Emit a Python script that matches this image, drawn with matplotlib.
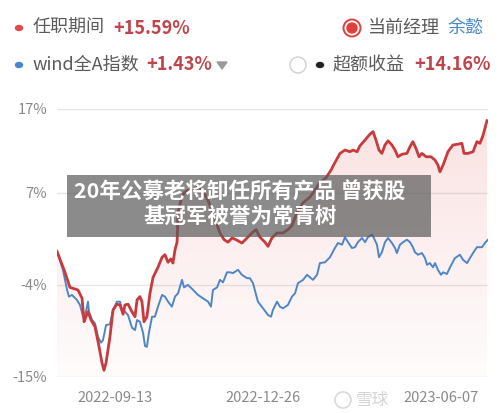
import numpy as np
import matplotlib
matplotlib.use("Agg")
import matplotlib.pyplot as plt
from matplotlib.patches import Rectangle, Ellipse, Polygon

plt.rcParams['font.family'] = ['Noto Sans CJK SC', 'DejaVu Sans']
plt.rcParams['axes.unicode_minus'] = False

# ---- data (cumulative return, %) ----
red_x = [0, 3.9, 6.3, 10.2, 12.2, 13.2, 14.1, 15.1, 16.6, 18.5, 20.5, 21.9, 22.9, 23.9, 25.8,
         27.3, 29.2, 30.7, 32.2, 33.1, 34.6, 36.5, 38.0, 39.0, 40.4, 41.4, 42.4, 43.8, 45.3,
         46.8, 49.2, 51.2, 52.6, 54.1, 55.5, 56.5, 57.5, 58.5, 59, 60.4, 61.9, 63.8, 66.3,
         68.7, 71.1, 73.6, 75.5, 77.5, 79.4, 81.4, 83.3, 85.3, 87.2, 90.1, 92.6, 95.0, 97.0,
         98.9, 101.3, 102.8, 104.7, 107.2, 110.1, 112.5, 114.5, 116.9, 119.9, 123.3, 125.7,
         128.1, 131.1, 133.5, 135.4, 137.9, 140.3, 142.7, 144.2, 146.2, 147.6, 150.1, 152.5,
         154.0, 155.4, 156.9, 158.3, 159.8, 161.3, 163.2, 164.7, 166.1, 168.1, 170.5, 172.0,
         173.4, 174.9, 176.4, 177.8, 179.8, 182.2, 184.2, 185.6, 186.6, 188.1, 190.5, 192.9,
         195.4, 197.3, 198.3, 200.2, 202.7, 204.6, 206.1, 207.5, 209.5]
red_y = [0.0, -2.5, -4.3, -4.6, -5.6, -8.4, -7.8, -7.2, -8.2, -9.0, -11.4, -13.3, -14.2, -13.3, -10.2,
         -7.0, -6.3, -6.4, -7.5, -6.4, -6.3, -7.2, -7.8, -5.8, -5.4, -6.0, -8.4, -7.8, -5.0,
         -3.1, -1.9, -0.7, -0.4, -1.3, -0.9, -1.4, 0.2, 1.1, 4.7, 6.1, 7.0, 7.3, 7.2,
         7.7, 7.2, 6.1, 4.9, 3.5, 2.2, 1.4, 1.1, 1.6, 1.4, 1.0, 1.6, 2.2, 2.6,
         1.7, 1.1, 0.6, 1.6, 2.2, 2.2, 2.6, 3.1, 4.6, 5.8, 6.5, 7.3,
         8.2, 8.8, 9.7, 10.6, 11.7, 12.1, 11.9, 12.1, 11.9, 12.6, 13.3, 14.0,
         14.3, 13.3, 12.1, 11.7, 12.7, 13.2, 12.7, 12.1, 11.3, 11.6, 11.7, 12.5,
         13.1, 12.3, 11.3, 11.7, 11.3, 11.3, 10.9, 10.3, 9.5, 10.3, 11.9, 12.7,
         12.8, 12.9, 11.7, 11.7, 11.9, 13.1, 12.9, 13.8, 15.6]

blue_x = [0, 2.9, 4.9, 5.8, 7.3, 9.7, 11.2, 12.7, 14.1, 15.1, 15.6, 17.1, 18.5, 20.0, 21.4, 22.4,
          23.9, 25.8, 27.3, 29.2, 30.7, 31.7, 33.1, 34.6, 36.5, 38.0, 39.0, 40.4, 41.9, 42.9,
          43.8, 44.8, 46.3, 47.7, 49.2, 51.2, 52.6, 54.1, 56.0, 57.5, 59.0, 60.9, 61.9, 63.8,
          66.3, 68.7, 71.1, 73.6, 75.0, 76.0, 78.0, 79.4, 80.9, 82.8, 84.3, 85.7, 88.2, 90.1,
          92.6, 94.0, 95.5, 97.9, 100.4, 102.8, 104.3, 105.2, 107.2, 108.6, 110.1, 112.5, 114.5,
          116.0, 117.4, 119.9, 121.8, 123.3, 124.7, 126.7, 128.1, 130.6, 133.0, 135.4, 136.9,
          138.9, 140.3, 141.8, 143.7, 145.2, 146.6, 148.6, 150.1, 151.5, 153.5, 154.4, 155.9,
          156.9, 158.3, 159.8, 161.3, 163.2, 164.7, 165.6, 167.1, 168.6, 170.5, 172.0, 173.4,
          174.4, 175.9, 177.8, 179.3, 180.3, 181.7, 183.2, 184.2, 185.6, 187.1, 188.1, 190.0,
          191.5, 193.9, 196.3, 197.8, 199.8, 201.2, 202.7, 204.6, 207.1, 208.5, 210.0]
blue_y = [0.0, -2.2, -4.6, -5.4, -5.2, -5.8, -6.4, -7.8, -7.2, -6.0, -7.2, -8.2, -8.6, -10.2, -10.9, -10.6,
          -8.8, -8.7, -7.0, -6.0, -6.0, -7.0, -7.2, -7.6, -9.1, -9.4, -8.2, -8.4, -9.7, -11.3,
          -11.4, -9.7, -7.8, -7.8, -6.6, -5.2, -5.4, -6.0, -6.6, -5.4, -5.0, -3.4, -4.3, -4.0,
          -4.6, -5.2, -5.6, -6.0, -6.6, -4.6, -4.3, -3.4, -3.7, -2.5, -2.5, -2.6, -2.2, -2.8,
          -3.2, -3.2, -3.8, -6.0, -6.8, -7.6, -7.8, -7.0, -6.0, -6.6, -6.8, -6.4, -5.4,
          -5.0, -3.8, -3.4, -2.8, -3.1, -3.4, -2.8, -1.4, -1.3, -0.7, 0.4, 1.0,
          0.8, 1.7, 1.1, 0.4, 0.5, 1.1, 1.6, 1.1, 1.7, 2.0, 1.6, 0.8,
          -0.7, -0.1, 1.1, 1.6, 1.0, 0.4, -0.2, 0.8, 1.1, 1.4, 1.1, 0.5,
          -0.1, -0.4, -0.2, -0.8, -1.6, -1.4, -1.9, -1.4, -2.2, -2.8, -2.5, -2.7,
          -1.9, -0.8, -0.4, -1.0, -1.4, -0.8, -0.2, 0.5, 0.5, 1.0, 1.4]

y_ticks = [17, 7, -4, -15]
y_tick_labels = ["17%", "7%", "-4%", "-15%"]
x_tick_pos = [28.3, 100.4, 187]
x_tick_labels = ["2022-09-13", "2022-12-26", "2023-06-07"]

RED = '#c83a3c'
BLUE = '#4f86c6'
GRAY_T = '#8a8a8a'

fig = plt.figure(figsize=(5.0, 4.13), dpi=100)
W, H = 500, 413
ax = fig.add_axes([57 / W, 1 - 377 / H, (488 - 57) / W, (377 - 109) / H])
ax.set_xlim(0, 210)
ax.set_ylim(-15, 17)

# gradient fill under red line
poly_xy = np.column_stack([np.r_[red_x, red_x[-1], red_x[0]], np.r_[red_y, -15, -15]])
grad = np.linspace(1, 0, 256).reshape(-1, 1)
rgba = np.zeros((256, 1, 4))
rgba[..., 0] = 0.90
rgba[..., 1] = 0.35
rgba[..., 2] = 0.35
rgba[..., 3] = 0.02 + 0.16 * grad[:, :]
im = ax.imshow(rgba, extent=[0, 210, -15, 17], aspect='auto', origin='upper', zorder=1)
clip = Polygon(poly_xy, closed=True, transform=ax.transData, facecolor='none', edgecolor='none')
ax.add_patch(clip)
im.set_clip_path(clip)

for yt in y_ticks:
    ax.axhline(yt, color='#e6e6e6', lw=1.0, zorder=0.5)

ax.plot(blue_x, blue_y, color=BLUE, lw=1.4, zorder=3, solid_joinstyle='round')
ax.plot(red_x, red_y, color=RED, lw=2.0, zorder=4, solid_joinstyle='round')

for s in ax.spines.values():
    s.set_visible(False)
ax.set_yticks(y_ticks)
ax.set_yticklabels(y_tick_labels)
ax.set_xticks(x_tick_pos)
ax.set_xticklabels(x_tick_labels)
ax.tick_params(length=0, colors=GRAY_T, labelsize=10.5)
ax.tick_params(axis='y', pad=7)
ax.tick_params(axis='x', pad=10)
ax.set_facecolor('white')

# ---- header ----
def px(x, y):
    return x / W, 1 - y / H

FS = 13
fig.patches.append(Ellipse(px(19, 28), 7 / W, 5 / H, transform=fig.transFigure, color='#e04a4a'))
fig.text(*px(33, 28), "任职期间", fontsize=FS, color='#5a5a5a', va='center', ha='left')
fig.text(*px(113, 28), "+15.59%", fontsize=FS, color='#c0454a', va='center', ha='left', fontweight='bold')

fig.patches.append(Ellipse(px(352, 28), 17 / W, 17 / H, transform=fig.transFigure,
                           facecolor='white', edgecolor='#e0403a', lw=1.4))
fig.patches.append(Ellipse(px(352, 28), 10 / W, 10 / H, transform=fig.transFigure, color='#e0403a'))
fig.text(*px(368, 28), "当前经理", fontsize=FS, color='#5a5a5a', va='center', ha='left')
fig.text(*px(448, 28), "余懿", fontsize=FS, color='#4a86c8', va='center', ha='left')

fig.patches.append(Ellipse(px(19, 65), 7 / W, 5 / H, transform=fig.transFigure, color='#4a86d0'))
fig.text(*px(33, 65), "wind全A指数", fontsize=FS, color='#5a5a5a', va='center', ha='left')
fig.text(*px(146, 65), "+1.43%", fontsize=FS, color='#c0454a', va='center', ha='left', fontweight='bold')
fig.patches.append(Polygon([px(217, 62), px(227, 62), px(222, 69)], closed=True,
                           transform=fig.transFigure, color='#9a9a9a'))

fig.patches.append(Ellipse(px(298, 65), 16 / W, 16 / H, transform=fig.transFigure,
                           facecolor='white', edgecolor='#cfcfcf', lw=1.0))
fig.patches.append(Ellipse(px(320, 65), 7 / W, 5 / H, transform=fig.transFigure, color='#222222'))
fig.text(*px(333, 65), "超额收益", fontsize=FS, color='#5a5a5a', va='center', ha='left')
fig.text(*px(414, 65), "+14.16%", fontsize=FS, color='#c0454a', va='center', ha='left', fontweight='bold')

# ---- overlay title box ----
fig.patches.append(Rectangle(px(67, 237), (431 - 67) / W, (237 - 175) / H, transform=fig.transFigure,
                             facecolor='#5a5a5a', alpha=0.7, edgecolor='none', zorder=5))
fig.text(*px(240, 192), "20年公募老将卸任所有产品 曾获股", fontsize=15.5, color='white',
         fontweight='bold', ha='center', va='center', zorder=6)
fig.text(*px(240, 216), "基冠军被誉为常青树", fontsize=15.5, color='white',
         fontweight='bold', ha='center', va='center', zorder=6)

# watermark
fig.patches.append(Ellipse(px(343, 400), 16 / W, 16 / H, transform=fig.transFigure,
                           facecolor='none', edgecolor='#d8d8d8', lw=1.2))
fig.text(*px(356, 400), "雪球", fontsize=12, color='#d4d4d4', ha='left', va='center')

fig.savefig("out.png", dpi=100, facecolor='white')
